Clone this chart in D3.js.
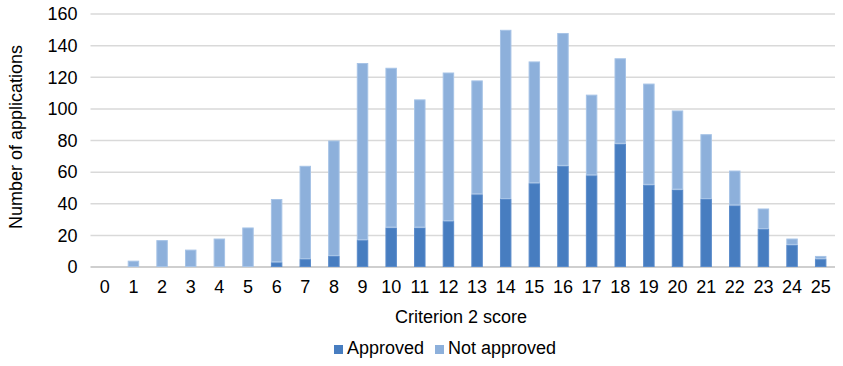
<!DOCTYPE html>
<html><head><meta charset="utf-8">
<script src="https://cdn.jsdelivr.net/npm/d3@7/dist/d3.min.js"></script>
<style>body{margin:0;background:#fff}svg{display:block;font-family:"Liberation Sans",Arial,sans-serif}</style>
</head><body>
<svg id="c" width="843" height="366"></svg>
<script>
const categories = ["0","1","2","3","4","5","6","7","8","9","10","11","12","13","14","15","16","17","18","19","20","21","22","23","24","25"];
const approved = [0,0,0,0,0,0,3,5,7,17,25,25,29,46,43,53,64,58,78,52,49,43,39,24,14,5];
const totals = [0,4,17,11,18,25,43,64,80,129,126,106,123,118,150,130,148,109,132,116,99,84,61,37,18,7];
const notApproved = totals.map((t,i)=>t-approved[i]);
const yTicks = [0,20,40,60,80,100,120,140,160];
const seriesNames = ["Approved","Not approved"];
const colors = ["#477dc0","#8db0db"];
const strokes = ["#5a8bca","#a6c3e6"];

const svg = d3.select("#c");
const m = {l:90.5, r:8, t:14, b:99};
const W = 843, H = 366;
const FS = 18;
const x = d3.scaleBand().domain(categories).range([m.l, W-m.r]).paddingInner(0.6).paddingOuter(0.3);
const y = d3.scaleLinear().domain([0,160]).range([H-m.b, m.t]);

// gridlines
svg.append("g").selectAll("line").data(yTicks).join("line")
  .attr("x1", m.l).attr("x2", W-m.r)
  .attr("y1", d=>y(d)).attr("y2", d=>y(d))
  .attr("stroke", d=> d===0 ? "#bfbfbf" : "#d9d9d9").attr("stroke-width", 1.5);

// y axis labels
const ya = svg.append("g").attr("transform",`translate(${m.l-13},0)`)
  .call(d3.axisLeft(y).tickValues(yTicks).tickSize(0).tickPadding(0));
ya.select(".domain").remove();
ya.selectAll("text").attr("font-size",FS).attr("fill","#000").attr("font-family","Liberation Sans, Arial, sans-serif");

// x axis labels
const xa = svg.append("g").attr("transform",`translate(0,${y(0)+10})`)
  .call(d3.axisBottom(x).tickSize(0).tickPadding(3));
xa.select(".domain").remove();
xa.selectAll("text").attr("font-size",FS).attr("fill","#000").attr("font-family","Liberation Sans, Arial, sans-serif");

// stacked bars
const data = categories.map((c,i)=>({cat:c, Approved:approved[i], "Not approved":notApproved[i]}));
const stack = d3.stack().keys(seriesNames)(data);
svg.append("g").selectAll("g").data(stack).join("g")
  .attr("fill",(d,i)=>colors[i]).attr("stroke",(d,i)=>strokes[i]).attr("stroke-width",1)
  .selectAll("rect").data(d=>d.filter(v=>v[1]>v[0])).join("rect")
  .attr("x", d=>x(d.data.cat)+0.5).attr("width", x.bandwidth()-1)
  .attr("y", d=>y(d[1])+0.5).attr("height", d=>Math.max(0,y(d[0])-y(d[1])-1));

// axis titles
svg.append("text").attr("transform",`translate(21.5,137) rotate(-90)`)
  .attr("text-anchor","middle").attr("font-size",FS).attr("fill","#000").text("Number of applications");
svg.append("text").attr("x", 461).attr("y", 323)
  .attr("text-anchor","middle").attr("font-size",FS).attr("fill","#000").text("Criterion 2 score");

// legend
const lg = svg.append("g").attr("transform","translate(334,354)");
const items = [{n:seriesNames[0],c:colors[0],x:0},{n:seriesNames[1],c:colors[1],x:101}];
items.forEach(it=>{
  lg.append("rect").attr("x",it.x).attr("y",-9).attr("width",9).attr("height",9).attr("fill",it.c);
  lg.append("text").attr("x",it.x+13).attr("y",0).attr("font-size",FS).attr("fill","#000").text(it.n);
});
</script>
</body></html>
